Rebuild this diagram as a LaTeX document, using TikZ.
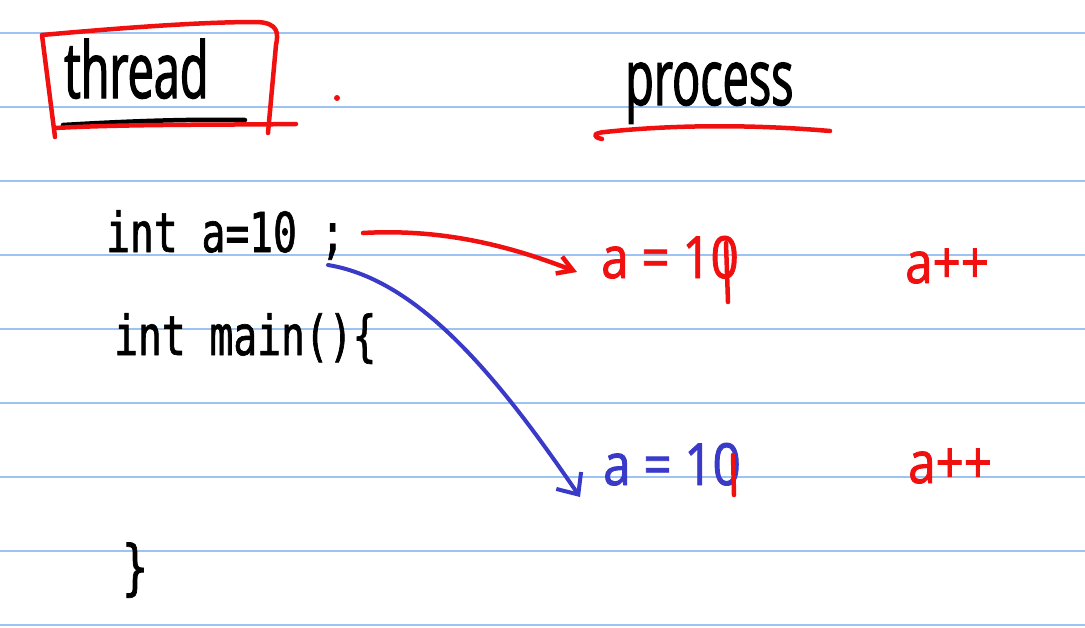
\documentclass[tikz,border=0pt]{standalone}
\usepackage{fontspec}
\usetikzlibrary{arrows.meta}
\newfontfamily\handhead[FakeStretch=0.6,FakeBold=1.5]{Open Sans}
\newfontfamily\handval[FakeStretch=0.85,FakeBold=1.5]{Open Sans}
\newfontfamily\handcode[FakeStretch=0.72,FakeBold=1.2]{DejaVu Sans Mono}
\definecolor{ruleblue}{HTML}{9CC3F2}
\definecolor{inkred}{HTML}{F01010}
\definecolor{inkblue}{HTML}{3A3AC8}
\tikzset{
  ruling/.style={ruleblue, line width=2pt},
  headtxt/.style={anchor=base west, inner sep=0pt, font=\handhead\fontsize{78}{78}\selectfont},
  codetxt/.style={anchor=base west, inner sep=0pt, font=\handcode\fontsize{55}{55}\selectfont},
  valtxt/.style={anchor=base west, inner sep=0pt, font=\handval\fontsize{58}{58}\selectfont},
  redpen/.style={inkred, line width=4.5pt, line cap=round, line join=round},
  bluepen/.style={inkblue, line width=4pt, line cap=round, line join=round},
  blackpen/.style={black, line width=4.5pt, line cap=round},
}
\begin{document}
\begin{tikzpicture}[x=1pt,y=-1pt]
\path[use as bounding box, fill=white] (0,0) rectangle (1085,627);
% ruled lines
\foreach \yy in {33,107,181,255,329,403,477,551,625}
  \draw[ruling] (0,\yy) -- (1085,\yy);

% headings
\node[headtxt] (thread) at (64,98) {thread};
\draw[blackpen] (63,125) .. controls (130,121) and (190,119) .. (245,120);
\draw[redpen] (55,137) -- (42,35) .. controls (120,28) and (200,22) .. (255,22)
  .. controls (280,22) and (278,35) .. (276,45) -- (268,133);
\draw[redpen] (55,128) .. controls (130,124) and (220,125) .. (296,124);
\fill[inkred] (337,98) circle (3pt);

\node[headtxt] (process) at (625,105) {process};
\draw[redpen] (602,139) .. controls (592,137) and (593,133) .. (605,132)
  .. controls (680,124) and (760,125) .. (830,131);

% code
\node[codetxt] (code1) at (106,252) {int a=10 ;};
\node[codetxt] (code2) at (114,355) {int main()\{};
\node[anchor=base west, inner sep=0pt, font=\handcode\fontsize{60}{60}\selectfont] (close) at (122,588) {\}};

% values
\node[valtxt, inkred] (val1) at (601,278) {a = 10};
\node[valtxt, inkred] (inc1) at (905,283) {a++};
\node[valtxt, inkblue] (val2) at (603,485) {a = 10};
\node[valtxt, inkred] (inc2) at (908,483) {a++};
% strike-throughs on the 0
\draw[redpen] (726,243) -- (728,302);
\draw[redpen] (733,455) -- (734,495);

% arrows
\coordinate (rstart) at (363,233);
\coordinate (rend) at (577,272);
\coordinate (bstart) at (328,265);
\coordinate (bend) at (580,497);
\draw[redpen, -{Straight Barb[length=15pt,width=18pt,line width=4.5pt]}]
  (rstart) .. controls (450,228) and (520,250) .. (rend);
\draw[bluepen, -{Straight Barb[length=17pt,width=30pt,line width=4pt]}]
  (bstart) .. controls (420,280) and (500,380) .. (bend);
\end{tikzpicture}
\end{document}
